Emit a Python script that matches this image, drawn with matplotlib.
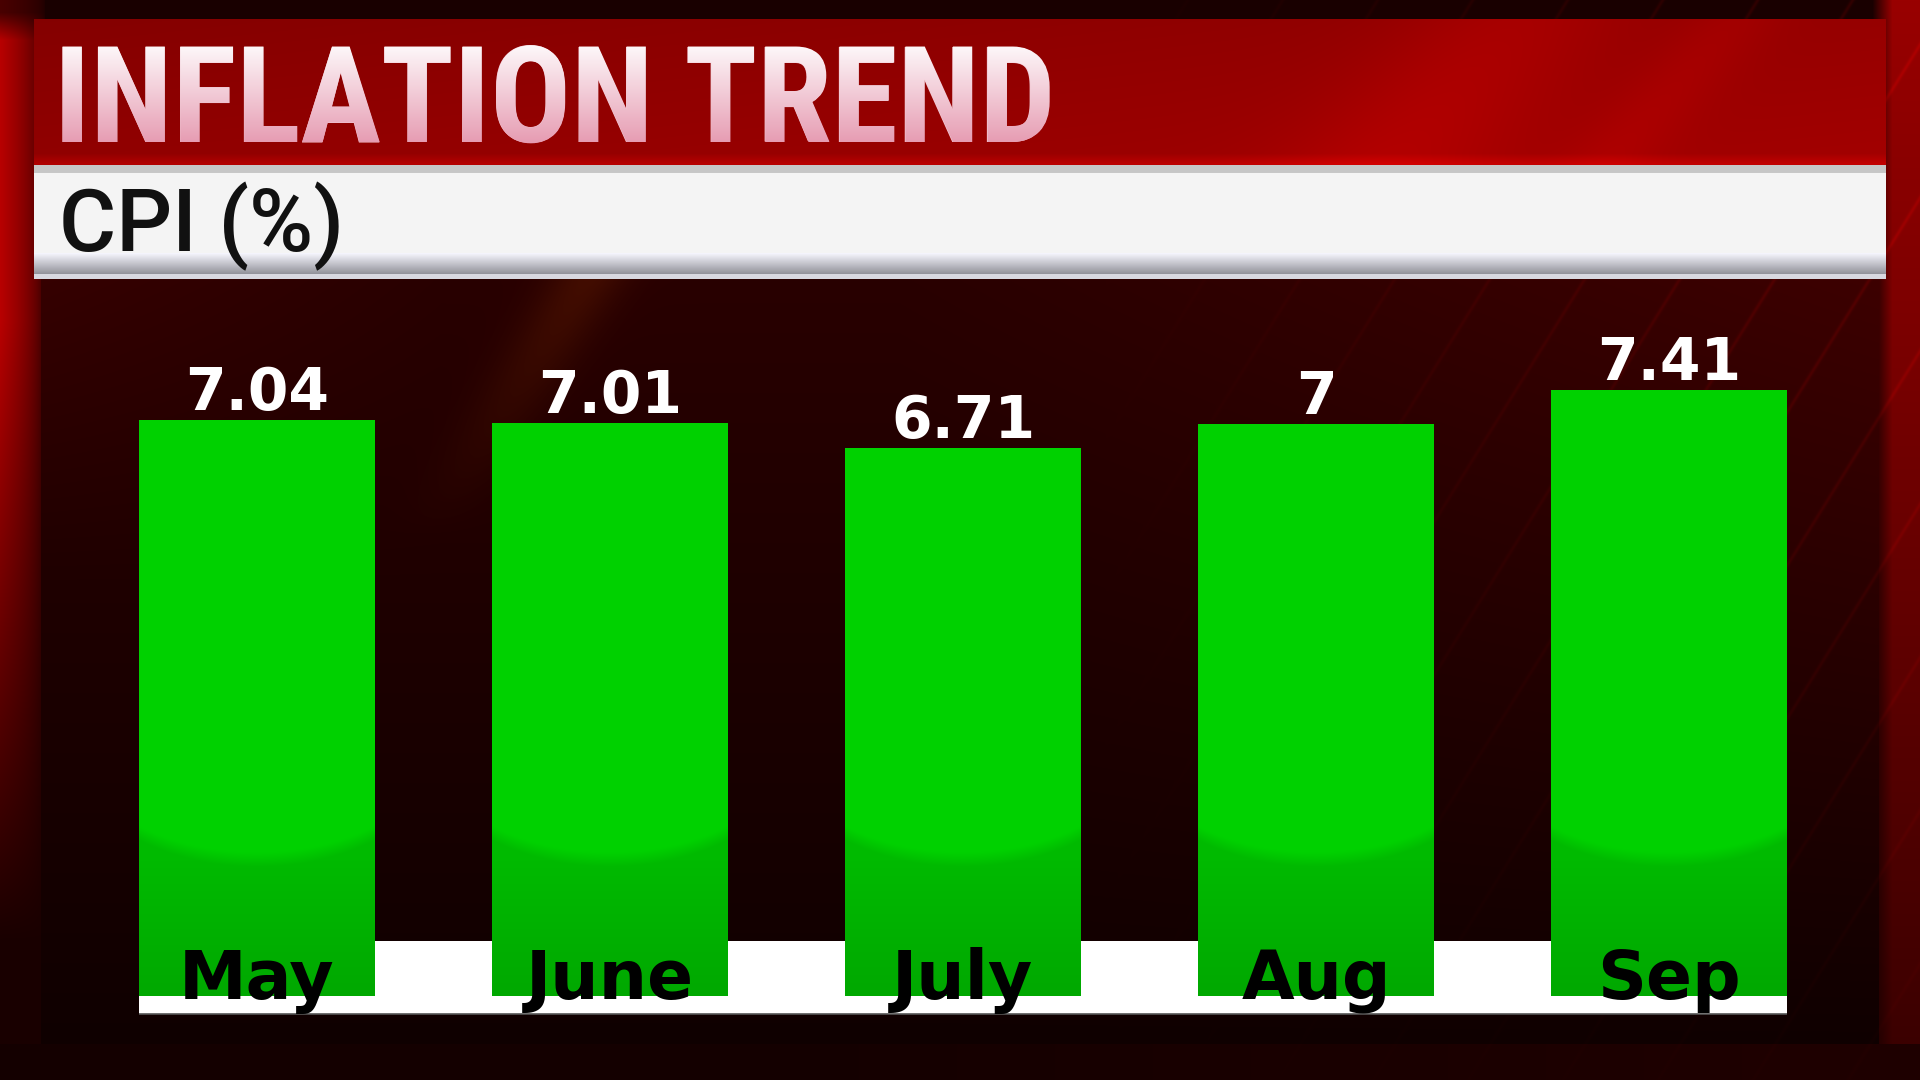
import numpy as np
import matplotlib
matplotlib.use("Agg")
import matplotlib.pyplot as plt
from matplotlib import font_manager
from matplotlib.font_manager import FontProperties
from matplotlib.patches import Rectangle
from matplotlib.textpath import TextPath
from matplotlib.transforms import Affine2D

# ---- data ----
months = ["May", "June", "July", "Aug", "Sep"]
cpi = [7.04, 7.01, 6.71, 7.00, 7.41]
value_labels = ["7.04", "7.01", "6.71", "7", "7.41"]
title = "INFLATION TREND"
subtitle = "CPI (%)"

W, H = 1920, 1080
DPI = 100
ZERO_PX = 1004.0   # pixel row of value 0
PPU = 82.9         # pixels per CPI point


def dv(p):
    """pixel row -> data value on the bar axis"""
    return (ZERO_PX - p) / PPU


def fig_rect(x0, y0, x1, y1):
    return [x0 / W, 1 - y1 / H, (x1 - x0) / W, (y1 - y0) / H]


def weight_num(w):
    if isinstance(w, (int, float)):
        return w
    return {"bold": 700, "heavy": 800, "black": 900, "semibold": 600,
            "demibold": 600, "extra bold": 800}.get(str(w).lower(), 400)


def title_font():
    # a condensed bold face if the system has one, Roboto bold otherwise
    best = None
    for f in font_manager.fontManager.ttflist:
        narrow = ("Narrow" in f.name or "Condensed" in f.name
                  or f.stretch in ("condensed", "semi-condensed", "extra-condensed"))
        if narrow and weight_num(f.weight) >= 600 and f.style == "normal":
            best = f.fname
            if "Liberation" in f.name or "Roboto" in f.name:
                break
    if best:
        return FontProperties(fname=best)
    return FontProperties(family="Roboto", weight="bold")


fig = plt.figure(figsize=(W / DPI, H / DPI), dpi=DPI)

# ---- background (whole frame, pixel coords) ----
bg = fig.add_axes([0, 0, 1, 1])
bg.set_xlim(0, W)
bg.set_ylim(H, 0)
yy, xx = np.mgrid[0:H, 0:W].astype(np.float32)
r = np.full((H, W), 0.10, dtype=np.float32)
g = np.zeros((H, W), dtype=np.float32)

left = np.clip(1 - xx / 45, 0, 1) ** 0.5 * np.clip(1 - (yy - 320) / 620, 0, 1)
r += 0.62 * left * np.clip(yy / 40, 0.3, 1)
right = np.clip((xx - 1872) / 20, 0, 1) * np.clip(0.50 - 0.38 * yy / H, 0.08, 1)
r += right

panel = (xx >= 41) & (xx <= 1878) & (yy >= 279) & (yy <= 1043)
t = np.clip((yy - 279) / 764, 0, 1)
pv = 0.16 - 0.10 * t + 0.08 * np.clip((xx - 900) / 1000, 0, 1) * (1 - t)
pv += 0.05 * np.clip(1 - (xx - 41) / 400, 0, 1) * np.clip(1 - t * 2.5, 0, 1)
r = np.where(panel, pv, r)
bottom = yy > 1043
r = np.where(bottom, 0.08 + 0.04 * np.clip((xx - 800) / 1000, 0, 1), r)

d = xx + 0.62 * yy
streak = np.exp(-(((d % 95) - 47) / 2.2) ** 2)
r += 0.09 * streak * np.clip((xx - 1100) / 700, 0, 1) * np.clip(1 - (yy - 279) / 900, 0, 1)
glow = np.exp(-((xx + 0.62 * yy - 760) / 40) ** 2) * np.clip(1 - (yy - 279) / 260, 0, 1) * panel
r += 0.10 * glow
g += 0.05 * glow

img = np.dstack([np.clip(r, 0, 1), np.clip(g, 0, 1), np.zeros_like(r)])
bg.imshow(img, extent=(0, W, H, 0), aspect="auto", interpolation="bilinear")

# title banner
bh, bw = 146, 1852
by, bx = np.mgrid[0:bh, 0:bw].astype(np.float32)
br = 0.52 + 0.07 * (bx / bw) + 0.05 * (by / bh)
br += 0.08 * np.exp(-((bx + 0.9 * by - 1480) / 110) ** 2)
br += 0.05 * np.exp(-((bx + 0.9 * by - 1700) / 50) ** 2)
br += 0.12 * np.clip((by - 134) / 10, 0, 1)
ban = np.dstack([np.clip(br, 0, 1), np.zeros_like(br), np.zeros_like(br)])
bg.imshow(ban, extent=(34, 1886, 165, 19), aspect="auto", interpolation="bilinear")

# white subtitle bar with its grey bevel
rows = np.arange(165, 279, dtype=np.float32)
shade = np.where(rows < 173, 0.78, 0.96)
shade = np.where(rows >= 253, 0.96 - (0.96 - 0.56) * np.clip((rows - 253) / 21, 0, 1), shade)
shade = np.where(rows >= 274, 0.85, shade)
bar_img = np.repeat(shade[:, None], 2, axis=1)[:, :, None] * np.array([1.0, 1.0, 1.0])
bar_img[:, :, 2] = np.clip(bar_img[:, :, 2] + 0.03 * (rows[:, None] >= 253), 0, 1)
bg.imshow(np.clip(bar_img, 0, 1), extent=(34, 1886, 279, 165), aspect="auto", interpolation="bilinear")

# title: cap height ~97 px, width at most ~1000 px
TX, TY = 54, 142
tprop = title_font()
tprop.set_size(98)
ttl = bg.text(TX, TY, title, ha="left", va="baseline",
              fontproperties=tprop, color="#f2c8d3", zorder=4)
renderer = fig.canvas.get_renderer()
tw = ttl.get_window_extent(renderer).width
if tw > 1002:
    tprop.set_size(98 * 1002 / tw)
    ttl.set_fontproperties(tprop)

# white-to-pink sheen laid over the title glyphs
grad_rows = np.linspace(0, 1, 128)[:, None]
top_c = np.array([1.0, 1.0, 1.0])
bot_c = np.array([0.90, 0.60, 0.69])
sheen = (top_c * (1 - grad_rows) + bot_c * grad_rows)[:, None, :].repeat(2, axis=1)
sheen_im = bg.imshow(sheen, extent=(TX - 5, TX + 1060, TY + 4, 38), aspect="auto",
                     interpolation="bilinear", zorder=5)
glyphs = TextPath((0, 0), title, prop=tprop)
sheen_im.set_clip_path(glyphs, Affine2D().scale(DPI / 72).translate(TX, H - TY))

bg.set_xlim(0, W)
bg.set_ylim(H, 0)
bg.axis("off")

fig.text(59 / W, 1 - 251 / H, subtitle, ha="left", va="baseline",
         fontsize=63, family="Roboto", fontweight="medium", color="#111111")

# ---- bar chart ----
ax = fig.add_axes(fig_rect(80.25, 279, 1845.75, 1043))
ax.patch.set_alpha(0)
x = np.arange(len(months))
width = 0.667

ax.add_patch(Rectangle((-width / 2, dv(1014)), 4 + width, dv(941) - dv(1014),
                       facecolor="white", edgecolor="none", zorder=1))

bars = ax.bar(x, cpi, width=width, color="#00d200", zorder=2)

# green shading: bright top, darker rounded bottom
for rect in bars:
    x0, w, h = rect.get_x(), rect.get_width(), rect.get_height()
    n_rows = int(h * PPU)
    pys = ZERO_PX - np.linspace(h, 0, n_rows) * PPU
    us = np.linspace(-1, 1, 120)
    U, PY = np.meshgrid(us, pys)
    edge = 735 + 118 * np.sqrt(np.clip(1 - (U / 1.6) ** 2, 0, 1))
    k = np.clip((PY - edge) / 14, 0, 1)
    dark = 0.73 - 0.07 * np.clip((PY - 860) / 136, 0, 1)
    gch = 0.82 * (1 - k) + dark * k
    shade_img = np.dstack([np.zeros_like(gch), gch, np.zeros_like(gch)])
    im = ax.imshow(shade_img, extent=(x0, x0 + w, 0, h), origin="upper",
                   aspect="auto", zorder=2.1, interpolation="bilinear")
    im.set_clip_path(rect)

ax.add_patch(Rectangle((-width / 2, dv(1014)), 4 + width, dv(996) - dv(1014),
                       facecolor="white", edgecolor="none", zorder=3))
ax.hlines(dv(1014), -width / 2, 4 + width / 2, color="#555555", lw=1.2, zorder=3)

for i, (val, lab) in enumerate(zip(cpi, value_labels)):
    ax.text(i, val + 10 / PPU, lab, ha="center", va="baseline", fontsize=42,
            fontweight="bold", family="DejaVu Sans", color="white", zorder=5)
for i, m in enumerate(months):
    ax.text(i, dv(999), m, ha="center", va="baseline", fontsize=49,
            fontweight="bold", family="DejaVu Sans", color="black", zorder=5)

ax.set_xlim(-0.5, 4.5)
ax.set_ylim(dv(1043), dv(279))
ax.axis("off")

fig.savefig("out.png", dpi=DPI)
